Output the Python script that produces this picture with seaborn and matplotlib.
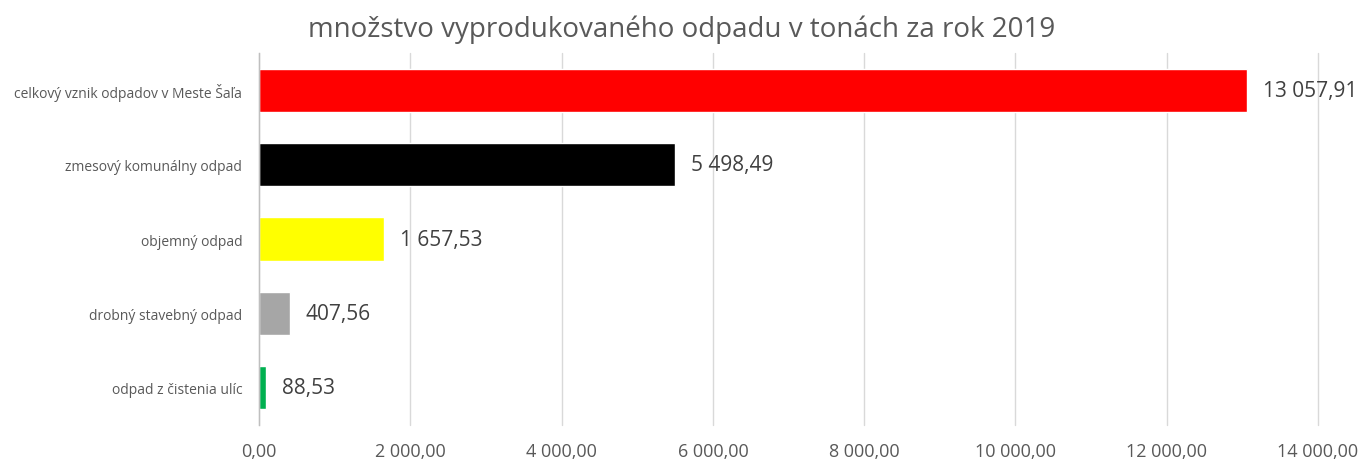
import matplotlib
matplotlib.use("Agg")
import matplotlib.pyplot as plt
import seaborn as sns
import pandas as pd

categories = ["celkový vznik odpadov v Meste Šaľa", "zmesový komunálny odpad",
              "objemný odpad", "drobný stavebný odpad", "odpad z čistenia ulíc"]
values = [13057.91, 5498.49, 1657.53, 407.56, 88.53]
colors = ["#ff0000", "#000000", "#ffff00", "#a6a6a6", "#00b050"]
title = "množstvo vyprodukovaného odpadu v tonách za rok 2019"

def fmt(v):
    s = f"{v:,.2f}"
    return s.replace(",", " ").replace(".", ",")

sns.set_theme(style="white")
plt.rcParams['font.family'] = ['Open Sans', 'DejaVu Sans']

df = pd.DataFrame({"cat": categories, "val": values})
fig = plt.figure(figsize=(13.64, 4.64), dpi=100)
ax = fig.add_axes([0.1899, 0.0819, 0.7764, 0.8017])
sns.barplot(data=df, y="cat", x="val", hue="cat", palette=colors, legend=False,
            width=0.58, ax=ax, orient="h", saturation=1)
ax.set_xlim(0, 14000)
ax.set_xticks(range(0, 14001, 2000))
ax.set_xticklabels([fmt(t) for t in range(0, 14001, 2000)], fontsize=13, color="#595959")
ax.tick_params(axis="x", pad=12, length=0)
ax.tick_params(axis="y", labelsize=10, labelcolor="#595959", length=0, pad=12)
ax.set_xlabel("")
ax.set_ylabel("")
ax.grid(axis="x", color="#d9d9d9", linewidth=1)
for gl in ax.get_xgridlines():
    gl.set_clip_on(False)
ax.set_axisbelow(True)
for s in ["top", "right", "bottom"]:
    ax.spines[s].set_visible(False)
ax.spines["left"].set_color("#bfbfbf")
ax.spines["left"].set_linewidth(1)
for i, v in enumerate(values):
    ax.text(v + 210, i, fmt(v), va="center", ha="left", fontsize=15, color="#404040")
fig.text(0.5, 0.935, title, ha="center", va="center", fontsize=20, color="#595959")
fig.savefig("out.png", dpi=100)
